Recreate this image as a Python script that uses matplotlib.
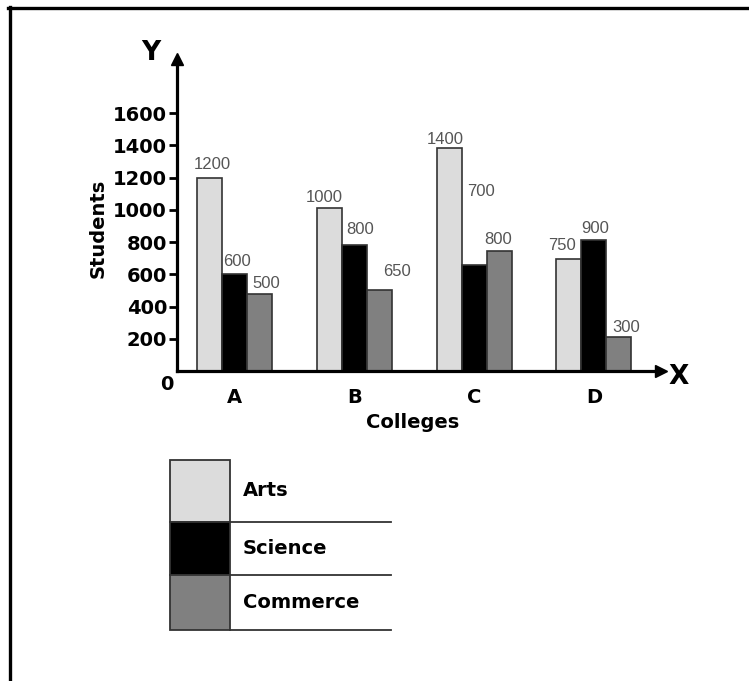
import numpy as np
import matplotlib
matplotlib.use("Agg")
import matplotlib.pyplot as plt
from matplotlib.patches import Rectangle
from matplotlib.lines import Line2D

# data
colleges = ["A", "B", "C", "D"]
streams = ["Arts", "Science", "Commerce"]
# bar heights as drawn
arts = [1197, 1012, 1380, 697]
science = [604, 781, 655, 810]
commerce = [480, 503, 742, 208]
# numbers printed above the bars
arts_lbl = [1200, 1000, 1400, 750]
science_lbl = [600, 800, 700, 900]
commerce_lbl = [500, 650, 800, 300]
yticks = [200, 400, 600, 800, 1000, 1200, 1400, 1600]

colors = ["#dcdcdc", "#000000", "#808080"]
W, H = 749, 681


def fx(x):
    return x / W


def fy(y):
    return 1 - y / H


fig = plt.figure(figsize=(W / 100, H / 100), dpi=100)
ax = fig.add_axes([fx(176.7), fy(371), fx(661) - fx(176.7), fy(59) - fy(371)])

x = np.arange(len(colleges))
bw = 0.209
series = [arts, science, commerce]
labels = [arts_lbl, science_lbl, commerce_lbl]
# label offsets (points) from top centre of each bar
dx = [[2, 2, 5], [-4, 4, 13], [-3, 5, -1], [-5, 1, 5]]
dy = [[4, 3, 2], [2, 6, 8], [1, 48, 3], [4, 3, 2]]

for j, vals in enumerate(series):
    pos = x + (j - 1) * bw
    ax.bar(pos, vals, width=bw, color=colors[j], edgecolor="#333333",
           linewidth=1.2, zorder=2)
    for i in range(len(colleges)):
        ax.annotate(str(labels[j][i]), (pos[i], vals[i]),
                    xytext=(dx[i][j], dy[i][j]), textcoords="offset points",
                    ha="center", va="bottom", fontsize=12,
                    family="Liberation Sans", color="#555555")

ax.set_xlim(-0.4845, 3.561)
ax.set_ylim(0, 1935)

for s in ["top", "right"]:
    ax.spines[s].set_visible(False)
for s in ["left", "bottom"]:
    ax.spines[s].set_linewidth(2.3)
    ax.spines[s].set_zorder(3)

# arrow heads
ax.plot(1, 0, ">k", transform=ax.transAxes, clip_on=False, markersize=9)
ax.plot(0, 1, "^k", transform=ax.transAxes, clip_on=False, markersize=9)

ax.set_yticks(yticks)
ax.set_yticklabels([str(v) for v in yticks], fontsize=14, fontweight="bold")
ax.tick_params(axis="y", direction="out", length=6, width=2, pad=1)
ax.set_xticks(x)
ax.set_xticklabels(colleges, fontsize=14, fontweight="bold")
ax.tick_params(axis="x", length=0, pad=12)

fig.text(fx(166.7), fy(384.5), "0", fontsize=14, fontweight="bold",
         ha="center", va="center")
fig.text(fx(413), fy(422), "Colleges", fontsize=14, fontweight="bold",
         ha="center", va="center")
fig.text(fx(98), fy(228), "Students", fontsize=14, fontweight="bold",
         ha="center", va="center", rotation=90)
fig.text(fx(151), fy(53), "Y", fontsize=19, fontweight="bold",
         ha="center", va="center")
fig.text(fx(679), fy(377), "X", fontsize=19, fontweight="bold",
         ha="center", va="center")

# legend drawn as a small table
tops = [460, 522, 575]
bots = [522, 575, 630]
for j, name in enumerate(streams):
    fig.add_artist(Rectangle((fx(170), fy(bots[j])), fx(230) - fx(170),
                             fy(tops[j]) - fy(bots[j]), facecolor=colors[j],
                             edgecolor="#333333", linewidth=1.3))
    fig.add_artist(Line2D([fx(230), fx(391)], [fy(bots[j]), fy(bots[j])],
                          color="#333333", linewidth=1.3))
    fig.text(fx(243), fy((tops[j] + bots[j]) / 2), name, fontsize=14,
             fontweight="bold", ha="left", va="center")

# frame on top and left
fig.add_artist(Line2D([fx(8), fx(749)], [fy(7.7), fy(7.7)], color="black", linewidth=2.4))
fig.add_artist(Line2D([fx(10), fx(10)], [fy(6.5), fy(681)], color="black", linewidth=2.4))

fig.savefig("out.png", dpi=100)
